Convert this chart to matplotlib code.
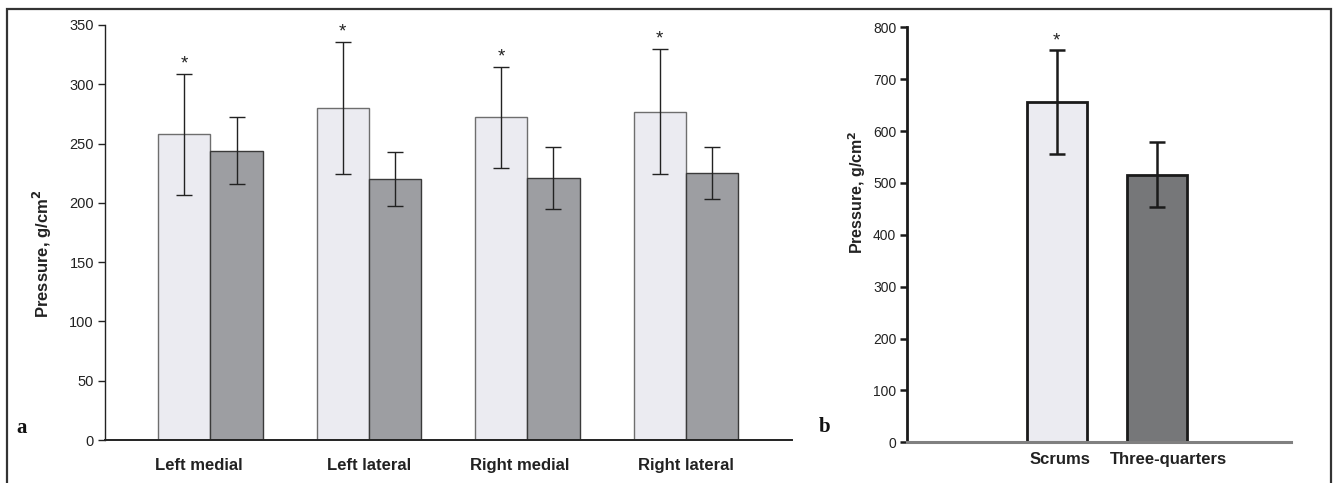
import matplotlib
matplotlib.use("Agg")
import matplotlib.pyplot as plt
from matplotlib.patches import Rectangle
import numpy as np

plt.rcParams['font.family'] = ['Liberation Sans', 'DejaVu Sans']

# Panel a data
regions = ["Left medial", "Left lateral", "Right medial", "Right lateral"]
scrums_a = [258, 280, 272, 277]
scrums_a_err = [51, 56, 43, 53]
backs_a = [244, 220, 221, 225]
backs_a_err = [28, 23, 26, 22]
yticks_a = [0, 50, 100, 150, 200, 250, 300, 350]

# Panel b data
groups_b = ["Scrums", "Three-quarters"]
totals_b = [656, 516]
totals_b_err = [101, 63]
yticks_b = [0, 100, 200, 300, 400, 500, 600, 700, 800]

LIGHT = "#EBEBF1"
DARK_A = "#9D9EA2"
DARK_B = "#767779"

W, H = 1337, 483
fig = plt.figure(figsize=(W / 100, H / 100), dpi=100)

def fx(px):
    return px / W

def fy(py):
    return (H - py) / H

# border
fig.patches.append(Rectangle((fx(7), fy(490)), fx(1331) - fx(7), fy(9) - fy(490),
                             transform=fig.transFigure, fill=False,
                             edgecolor="#333333", lw=1.6, zorder=0))

# ---------- Panel a ----------
axa = fig.add_axes([fx(105), fy(440), fx(792) - fx(105), fy(25) - fy(440)])
x = np.arange(len(regions))
bw = 0.33
axa.bar(x - bw / 2, scrums_a, bw, color=LIGHT, edgecolor="#6E6E6E", lw=1.0, zorder=2)
axa.bar(x + bw / 2, backs_a, bw, color=DARK_A, edgecolor="#3A3A3A", lw=1.0, zorder=2)
axa.errorbar(x - bw / 2, scrums_a, yerr=scrums_a_err, fmt="none", ecolor="#222222",
             elinewidth=1.0, capsize=6, capthick=1.0, zorder=3)
axa.errorbar(x + bw / 2, backs_a, yerr=backs_a_err, fmt="none", ecolor="#222222",
             elinewidth=1.0, capsize=6, capthick=1.0, zorder=3)
for xi, v, e in zip(x - bw / 2, scrums_a, scrums_a_err):
    axa.text(xi, v + e + 1, "*", ha="center", va="bottom", fontsize=13.5, color="#222222")
axa.set_xlim(-0.665, 3.67)
axa.set_ylim(0, 350)
axa.set_yticks(yticks_a)
axa.set_yticklabels([str(t) for t in yticks_a], fontsize=10.5, color="#222222")
axa.set_xticks(x + np.array([-0.07, 0.0, -0.05, 0.0]))
axa.set_xticklabels(regions, fontsize=12, fontweight="bold", color="#222222")
axa.tick_params(axis="x", length=0, pad=13)
axa.tick_params(axis="y", length=5, width=1.0, color="#222222", pad=3)
for s in ["top", "right"]:
    axa.spines[s].set_visible(False)
axa.spines["left"].set_color("#222222")
axa.spines["bottom"].set_color("#222222")
axa.spines["left"].set_linewidth(1.0)
axa.spines["bottom"].set_linewidth(1.4)
axa.set_ylabel("Pressure, g/cm$^\\mathbf{2}$", fontsize=12, fontweight="bold",
               color="#222222", va="center")
axa.yaxis.set_label_coords(-0.0917, 0.449)

# ---------- Panel b ----------
axb = fig.add_axes([fx(907.3), fy(442.3), fx(1290.7) - fx(907.3), fy(27.3) - fy(442.3)])
xb = np.arange(len(groups_b))
bwb = 0.6
axb.bar(xb, totals_b, bwb, color=[LIGHT, DARK_B], edgecolor="#1A1A1A", lw=2.0, zorder=2)
axb.errorbar(xb, totals_b, yerr=totals_b_err, fmt="none", ecolor="#1A1A1A",
             elinewidth=1.8, capsize=5.5, capthick=1.8, zorder=3)
axb.text(xb[0], totals_b[0] + totals_b_err[0] + 1, "*", ha="center", va="bottom",
         fontsize=13.5, color="#222222")
axb.set_xlim(-1.49, 2.33)
axb.set_ylim(0, 800)
axb.set_yticks(yticks_b)
axb.set_yticklabels([str(t) for t in yticks_b], fontsize=10, color="#222222")
axb.set_xticks(xb + np.array([0.03, 0.11]))
axb.set_xticklabels(groups_b, fontsize=12, fontweight="bold", color="#222222")
axb.tick_params(axis="x", length=0, pad=7)
axb.tick_params(axis="y", length=5, width=1.8, color="#1A1A1A", pad=3)
for s in ["top", "right"]:
    axb.spines[s].set_visible(False)
axb.spines["left"].set_color("#1A1A1A")
axb.spines["left"].set_linewidth(2.0)
axb.spines["bottom"].set_color("#808080")
axb.spines["bottom"].set_linewidth(2.2)
axb.set_ylabel("Pressure, g/cm$^\\mathbf{2}$", fontsize=11.5, fontweight="bold",
               color="#222222", va="center")
axb.yaxis.set_label_coords(-0.131, 0.603)

# panel letters
fig.text(fx(22), fy(428), "a", fontsize=15, fontweight="bold", family="Liberation Serif",
         ha="center", va="center", color="#111111")
fig.text(fx(825), fy(427), "b", fontsize=15, fontweight="bold", family="Liberation Serif",
         ha="center", va="center", color="#111111")

fig.savefig("out.png", dpi=100)
